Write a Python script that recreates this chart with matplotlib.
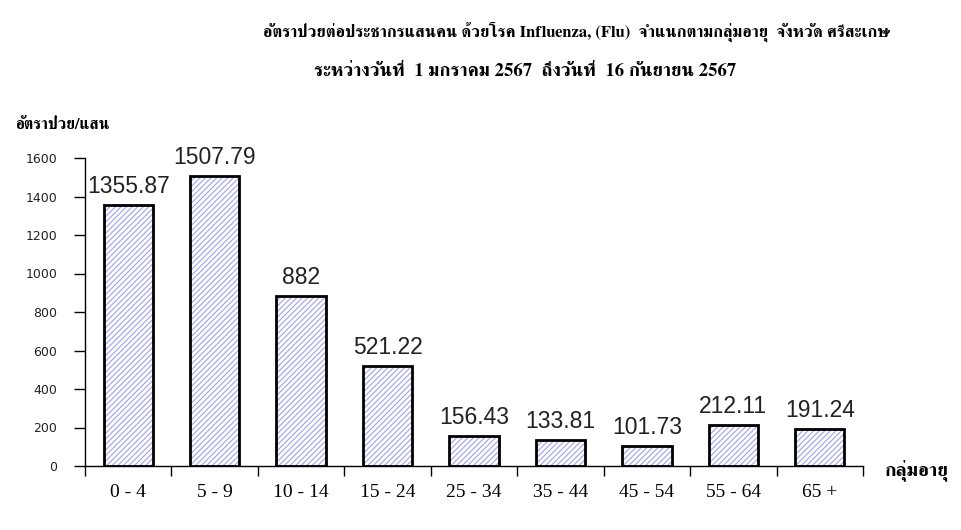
import matplotlib
matplotlib.use("Agg")
import matplotlib.pyplot as plt
from matplotlib import font_manager

categories = ["0 - 4", "5 - 9", "10 - 14", "15 - 24", "25 - 34", "35 - 44", "45 - 54", "55 - 64", "65 +"]
values = [1355.87, 1507.79, 882, 521.22, 156.43, 133.81, 101.73, 212.11, 191.24]
value_labels = ["1355.87", "1507.79", "882", "521.22", "156.43", "133.81", "101.73", "212.11", "191.24"]
yticks = [0, 200, 400, 600, 800, 1000, 1200, 1400, 1600]
title1 = "อัตราป่วยต่อประชากรแสนคน ด้วยโรค Influenza, (Flu)  จำแนกตามกลุ่มอายุ  จังหวัด ศรีสะเกษ"
title2 = "ระหว่างวันที่  1 มกราคม 2567  ถึงวันที่  16 กันยายน 2567"
ylabel = "อัตราป่วย/แสน"
xlabel = "กลุ่มอายุ"

installed = {f.name for f in font_manager.fontManager.ttflist}
thai_family = [f for f in ["Norasi", "Kinnari", "FreeSerif", "Loma"] if f in installed] + ["DejaVu Sans"]

plt.rcParams["hatch.linewidth"] = 0.8

fig = plt.figure(figsize=(9.61, 5.30), dpi=100)
ax = fig.add_axes([85 / 961, 1 - 466 / 530, 778 / 961, 308 / 530])

x = list(range(len(categories)))
ax.bar(x, values, width=0.57, color="white", edgecolor="#a0a0f0", hatch="//////", linewidth=0, zorder=2)
ax.bar(x, values, width=0.57, fill=False, edgecolor="black", linewidth=2, zorder=3)

for xi, v, lab in zip(x, values, value_labels):
    ax.text(xi, v + 36, lab, ha="center", va="bottom", fontsize=16.5, family="Liberation Sans", color="#222222")

ax.set_xlim(-0.5, len(categories) - 0.5)
ax.set_ylim(0, 1600)
ax.set_yticks(yticks)
ax.set_yticklabels([str(t) for t in yticks], fontsize=9, family="DejaVu Sans", color="#222222")
ax.set_xticks([i - 0.5 for i in range(len(categories) + 1)])
ax.set_xticklabels([])
ax.set_xticks(x, minor=True)
ax.set_xticklabels(categories, minor=True, fontsize=14, family="Liberation Serif")
ax.tick_params(axis="x", which="major", direction="out", length=7, width=1)
ax.tick_params(axis="x", which="minor", length=0, pad=13)
ax.tick_params(axis="y", direction="out", length=8, width=1, pad=12)
for s in ["top", "right"]:
    ax.spines[s].set_visible(False)
ax.spines["left"].set_linewidth(1)
ax.spines["bottom"].set_linewidth(1)

fig.text(577 / 961, 1 - 32 / 530, title1, ha="center", va="center", fontsize=12, fontweight="bold", family=thai_family)
fig.text(525 / 961, 1 - 72 / 530, title2, ha="center", va="center", fontsize=13.5, fontweight="bold", family=thai_family)
fig.text(15 / 961, 1 - 125 / 530, ylabel, ha="left", va="center", fontsize=11.5, fontweight="bold", family=thai_family)
fig.text(885 / 961, 1 - 470 / 530, xlabel, ha="left", va="center", fontsize=14, fontweight="bold", family=thai_family)

fig.savefig("out.png", dpi=100)
